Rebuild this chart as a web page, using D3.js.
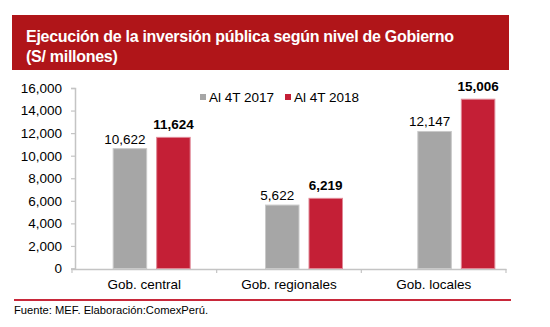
<!DOCTYPE html>
<html>
<head>
<meta charset="utf-8">
<script src="https://cdn.jsdelivr.net/npm/d3@7"></script>
<style>
  html, body { margin: 0; padding: 0; background: #fff; }
  svg { display: block; font-family: "Liberation Sans", Arial, sans-serif; }
</style>
</head>
<body>
<svg id="chart" width="550" height="327"></svg>
<script>
// inversión pública por nivel de gobierno (S/ millones)
const categories = ["Gob. central", "Gob. regionales", "Gob. locales"];
const seriesNames = ["Al 4T 2017", "Al 4T 2018"];
const values2017 = [10622, 5622, 12147];
const values2018 = [11624, 6219, 15006];
const yTicks = [0, 2000, 4000, 6000, 8000, 10000, 12000, 14000, 16000];

const colors = { "Al 4T 2017": "#a6a6a6", "Al 4T 2018": "#c41f36" };
const edges = { "Al 4T 2017": "#c9c9c9", "Al 4T 2018": "#e08896" };

const rows = categories.map((c, i) => ({
  cat: c,
  vals: [
    { key: seriesNames[0], v: values2017[i] },
    { key: seriesNames[1], v: values2018[i] }
  ]
}));

const svg = d3.select("#chart");
const fmt = d3.format(",");

// title banner
svg.append("rect")
  .attr("x", 12).attr("y", 15)
  .attr("width", 497).attr("height", 55)
  .attr("fill", "#b01519");
svg.append("text")
  .attr("x", 26).attr("y", 42)
  .attr("fill", "#fff")
  .attr("font-size", 16).attr("font-weight", "bold")
  .attr("letter-spacing", -0.28)
  .text("Ejecución de la inversión pública según nivel de Gobierno");
svg.append("text")
  .attr("x", 26).attr("y", 62)
  .attr("fill", "#fff")
  .attr("font-size", 16).attr("font-weight", "bold")
  .attr("letter-spacing", -0.28)
  .text("(S/ millones)");

// scales
const y = d3.scaleLinear().domain([0, 16000]).range([268.5, 88]);
const xAxisScale = d3.scaleBand().domain(categories).range([72, 506]);
const xBars = d3.scaleBand().domain(categories).range([75.5, 532.5]);
const xInner = d3.scaleBand().domain(seriesNames)
  .range([-39, 39]).paddingInner(0.207);

// y axis
const yAxis = d3.axisLeft(y).tickValues(yTicks).tickSize(4).tickFormat(fmt);
const gy = svg.append("g").attr("transform", "translate(75,0)").call(yAxis);
gy.select(".domain").attr("stroke", "#c4c4c4").attr("stroke-width", 1.5);
gy.selectAll(".tick line").attr("stroke", "#c4c4c4").attr("stroke-width", 1.2);
gy.selectAll(".tick text")
  .attr("x", -13)
  .attr("font-size", 13.5)
  .attr("fill", "#000")
  .attr("font-family", "Liberation Sans, Arial, sans-serif");

// x axis
const xAxis = d3.axisBottom(xAxisScale).tickSize(0).tickSizeOuter(0);
const gx = svg.append("g").attr("transform", "translate(0,269)").call(xAxis);
gx.select(".domain").attr("stroke", "#c4c4c4").attr("stroke-width", 1.5);
gx.selectAll(".tick text")
  .attr("y", 20).attr("dy", 0)
  .attr("font-size", 13.5)
  .attr("fill", "#000")
  .attr("font-family", "Liberation Sans, Arial, sans-serif");
// boundary ticks between categories
const bounds = categories.map(c => xAxisScale(c)).concat([xAxisScale.range()[1]]);
svg.append("g").selectAll("line")
  .data(bounds)
  .join("line")
  .attr("x1", d => d).attr("x2", d => d)
  .attr("y1", 269).attr("y2", 273)
  .attr("stroke", "#c4c4c4").attr("stroke-width", 1.2);

// bars
const groups = svg.append("g").selectAll("g")
  .data(rows)
  .join("g")
  .attr("transform", d => `translate(${xBars(d.cat) + xBars.bandwidth() / 2},0)`);

groups.selectAll("rect")
  .data(d => d.vals)
  .join("rect")
  .attr("x", d => xInner(d.key) + 0.5)
  .attr("y", d => y(d.v))
  .attr("width", xInner.bandwidth() - 1)
  .attr("height", d => y(0) - y(d.v))
  .attr("fill", d => colors[d.key])
  .attr("stroke", d => edges[d.key])
  .attr("stroke-width", 1);

// value labels
groups.selectAll("text")
  .data(d => d.vals)
  .join("text")
  .attr("x", (d, i) => xInner(d.key) + xInner.bandwidth() / 2 + (i === 0 ? -5 : 0))
  .attr("y", (d, i) => y(d.v) - (i === 0 ? 5 : 8))
  .attr("text-anchor", "middle")
  .attr("font-size", 13.5)
  .attr("font-weight", (d, i) => i === 0 ? "normal" : "bold")
  .attr("fill", "#000")
  .text(d => fmt(d.v));

// legend
const legendX = [200, 285];
const legend = svg.append("g").selectAll("g")
  .data(seriesNames)
  .join("g")
  .attr("transform", (d, i) => `translate(${legendX[i]},0)`);
legend.append("rect")
  .attr("x", 0).attr("y", 94)
  .attr("width", 6).attr("height", 6)
  .attr("fill", d => colors[d]);
legend.append("text")
  .attr("x", 9).attr("y", 102)
  .attr("font-size", 13.5)
  .attr("fill", "#000")
  .text(d => d);

// footer
svg.append("line")
  .attr("x1", 14).attr("x2", 511)
  .attr("y1", 300).attr("y2", 300)
  .attr("stroke", "#c8283a").attr("stroke-width", 2);
svg.append("text")
  .attr("x", 14).attr("y", 314)
  .attr("font-size", 11.2)
  .attr("fill", "#000")
  .text("Fuente: MEF. Elaboración:ComexPerú.");
</script>
</body>
</html>
